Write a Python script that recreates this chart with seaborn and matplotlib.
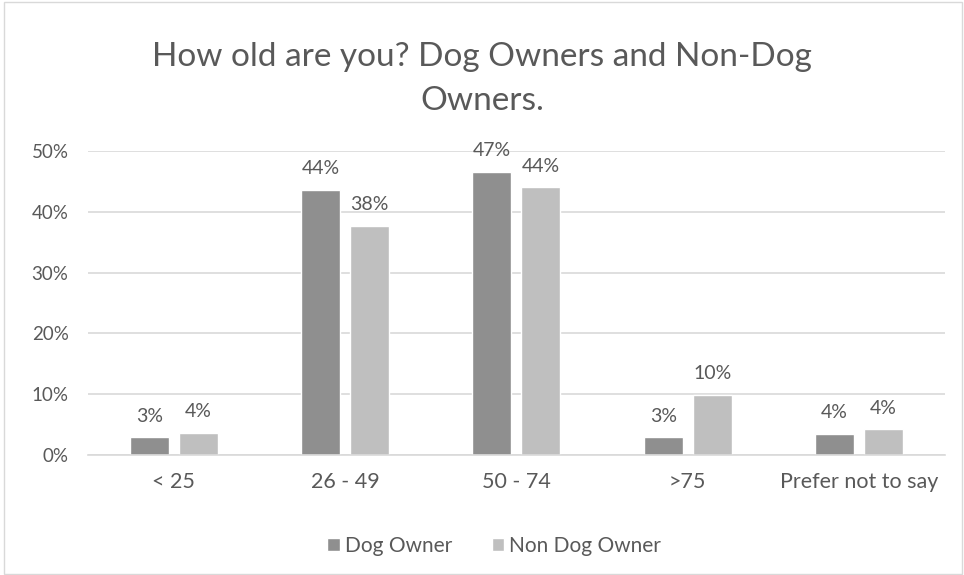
import numpy as np
import pandas as pd
import matplotlib
matplotlib.use("Agg")
import matplotlib.pyplot as plt
import seaborn as sns
from matplotlib.patches import Rectangle
from matplotlib.ticker import FuncFormatter

categories = ["< 25", "26 - 49", "50 - 74", ">75", "Prefer not to say"]
dog_owner = [2.9, 43.6, 46.6, 2.9, 3.5]
non_dog_owner = [3.7, 37.7, 44.0, 9.95, 4.2]
series = ["Dog Owner", "Non Dog Owner"]

df = pd.DataFrame({
    "age": categories * 2,
    "share": dog_owner + non_dog_owner,
    "group": [series[0]] * len(categories) + [series[1]] * len(categories),
})

sns.set_style("white")
plt.rcParams["font.family"] = ["Lato", "DejaVu Sans"]
text_col = "#595959"

fig = plt.figure(figsize=(9.64, 5.75), dpi=100)
ax = fig.add_axes([0.0913, 0.2087, 0.8887, 0.5287])

sns.barplot(data=df, x="age", y="share", hue="group", order=categories,
            hue_order=series, palette=["#8f8f8f", "#bfbfbf"],
            width=0.57, gap=0.2, saturation=1, ax=ax, legend=True)

for cont in ax.containers:
    ax.bar_label(cont, labels=[f"{v:.0f}%" for v in cont.datavalues],
                 padding=9, fontsize=14, color=text_col)

ax.set_ylim(0, 50)
ax.set_yticks(np.arange(0, 51, 10))
ax.yaxis.set_major_formatter(FuncFormatter(lambda v, p: f"{v:.0f}%"))
ax.grid(axis="y", color="#d9d9d9", linewidth=1.2)
ax.set_axisbelow(True)
for s in ["top", "right", "left"]:
    ax.spines[s].set_visible(False)
ax.spines["bottom"].set_color("#d9d9d9")
ax.spines["bottom"].set_linewidth(1.2)
ax.tick_params(axis="both", length=0, labelcolor=text_col)
ax.tick_params(axis="y", labelsize=13.5, pad=14)
ax.tick_params(axis="x", labelsize=15.5, pad=12)
ax.set_xlabel("")
ax.set_ylabel("")

ax.legend(loc="center", bbox_to_anchor=(0.474, -0.3), ncol=2, frameon=False,
          fontsize=15, labelcolor=text_col, handlelength=0.6, handleheight=0.6,
          handletextpad=0.25, columnspacing=1.9)

fig.text(0.5, 0.901, "How old are you? Dog Owners and Non-Dog", ha="center",
         va="center", fontsize=24, color=text_col)
fig.text(0.5, 0.824, "Owners.", ha="center", va="center", fontsize=24,
         color=text_col)

fig.patches.append(Rectangle((0.004, 0.002), 0.994, 0.994, transform=fig.transFigure,
                             fill=False, edgecolor="#d9d9d9", linewidth=1))

fig.savefig("out.png", dpi=100)
